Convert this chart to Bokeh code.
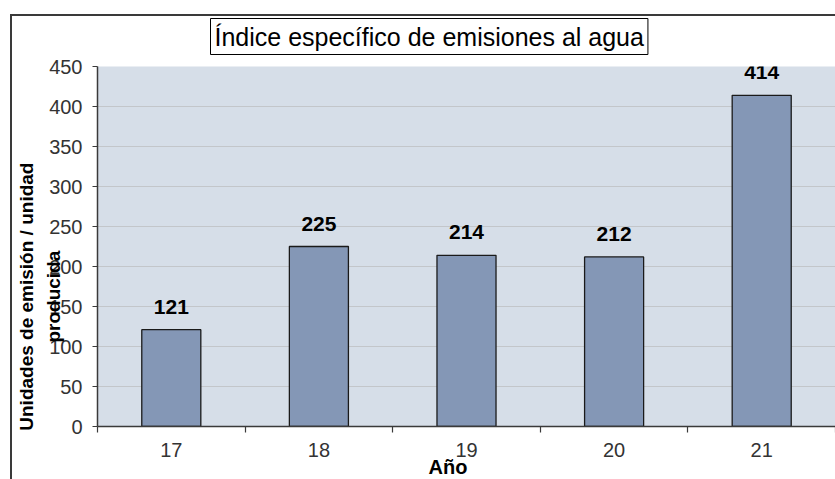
from bokeh.plotting import figure
from bokeh.models import (Range1d, FixedTicker, Title, ColumnDataSource, LinearAxis)
from bokeh.core.properties import value
from bokeh.embed import file_html
from bokeh.resources import INLINE

# ---- data ----
years = ["17", "18", "19", "20", "21"]
emissions = [121, 225, 214, 212, 414]
y_ticks = [0, 50, 100, 150, 200, 250, 300, 350, 400, 450]
title_text = "Índice específico de emisiones al agua"
y_title_lines = ["Unidades de emisión / unidad", "producida"]
x_title = "Año"

FONT = "Liberation Sans"
DARK = "#3a3a3a"

# category slots: centre of slot i is i + 0.5, slot edges at 0..n
n = len(years)
centers = [i + 0.5 for i in range(n)]
edges = list(range(n + 1))

src = ColumnDataSource(dict(x=centers, value=emissions,
                            label=[str(v) for v in emissions]))

p = figure(width=835, height=479,
           x_range=Range1d(0, n), y_range=Range1d(y_ticks[0], y_ticks[-1]),
           output_backend="svg", toolbar_location=None,
           min_border_left=97, min_border_right=0, min_border_top=66, min_border_bottom=53,
           background_fill_color="#D6DEE8", border_fill_color=None)
# outer chart border (left and top edges; the rest is cropped in the reference)
line = "linear-gradient(%s, %s)" % (DARK, DARK)
p.styles = {
    "background": (line + " 10px 14px / 2px calc(100% - 14px) no-repeat, "
                   + line + " 10px 14px / calc(100% - 10px) 2px no-repeat, white"),
}
p.outline_line_color = None

p.title = Title(text=title_text, align="left", offset=113, vertical_align="bottom",
                text_font=FONT, text_font_size="25px", text_font_style="normal",
                text_color="black", border_line_color="black", border_line_width=1,
                background_fill_color="white", padding=4, standoff=24)

p.vbar(x="x", top="value", width=0.4, source=src,
       fill_color="#8497B6", line_color="#1a1a1a", line_width=1.3)
p.text(x="x", y="value", text="label", source=src, y_offset=-23,
       text_align="center", text_baseline="middle",
       text_font=value(FONT), text_font_size="21px", text_font_style="bold",
       text_color="black")

# y axis
yax = p.yaxis[0]
yax.ticker = FixedTicker(ticks=y_ticks)
yax.major_tick_out = 5
yax.major_tick_in = 0
yax.minor_tick_line_color = None
yax.axis_line_color = DARK
yax.axis_line_width = 1.5
yax.major_tick_line_color = DARK
yax.major_label_standoff = 10
yax.major_label_text_font = FONT
yax.major_label_text_font_size = "20px"
yax.major_label_text_color = "#333333"

p.ygrid.grid_line_color = "#C3C6CA"
p.ygrid.grid_line_width = 1
p.xgrid.visible = False

# x axis: labels at slot centres, tick marks at slot edges
xax = p.xaxis[0]
xax.ticker = FixedTicker(ticks=centers, minor_ticks=edges)
xax.major_label_overrides = {c: y for c, y in zip(centers, years)}
xax.major_tick_line_color = None
xax.major_tick_out = 6
xax.major_tick_in = 0
xax.minor_tick_line_color = DARK
xax.minor_tick_line_width = 1.2
xax.minor_tick_out = 6
xax.minor_tick_in = 0
xax.axis_line_color = DARK
xax.axis_line_width = 1.5
xax.major_label_standoff = 10
xax.major_label_text_font = FONT
xax.major_label_text_font_size = "20px"
xax.major_label_text_color = "#333333"

# y title: an axis of its own, label pulled in over the tick labels as in the
# reference; trailing no-break spaces move the visible text below the frame centre
pad = "\u00a0" * 19
ylab = LinearAxis(ticker=FixedTicker(ticks=[]),
                  axis_line_color=None, major_tick_line_color=None,
                  minor_tick_line_color=None, major_tick_out=0, minor_tick_out=0,
                  major_tick_in=0, minor_tick_in=0,
                  axis_label="\n".join(t + pad for t in y_title_lines),
                  axis_label_standoff=-17,
                  axis_label_text_font=FONT, axis_label_text_font_size="19px",
                  axis_label_text_font_style="bold", axis_label_text_color="black",
                  axis_label_text_line_height=1.26)
p.add_layout(ylab, "left")
p.left = [yax, ylab]

# x title
p.add_layout(Title(text=x_title, align="left", offset=331, vertical_align="bottom",
                   standoff=-11, text_font=FONT, text_font_size="20px",
                   text_font_style="bold", text_color="black"), "below")

open("out.html", "w").write(file_html(p, INLINE))
